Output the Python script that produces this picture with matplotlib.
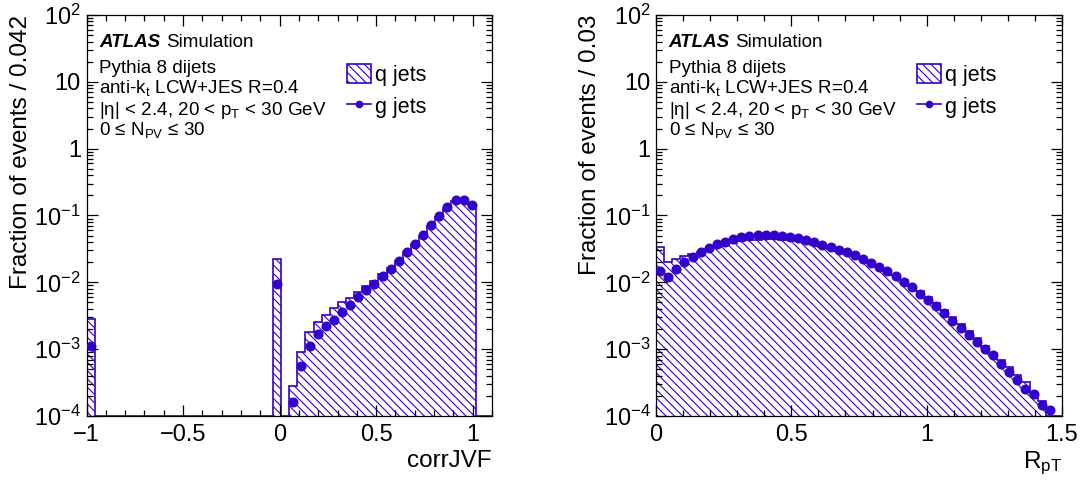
import numpy as np
import matplotlib
matplotlib.use("Agg")
import matplotlib.pyplot as plt
import matplotlib.ticker as ticker
from matplotlib.patches import Patch
from matplotlib.lines import Line2D

plt.rcParams["font.family"] = ["Liberation Sans", "DejaVu Sans"]
plt.rcParams["mathtext.fontset"] = "custom"
plt.rcParams["mathtext.rm"] = "Liberation Sans"
plt.rcParams["mathtext.it"] = "Liberation Sans:italic"
plt.rcParams["mathtext.bf"] = "Liberation Sans:bold"
plt.rcParams["hatch.linewidth"] = 0.8

COLOR = "#3300cc"
HATCH = "\\\\\\\\"
YMIN, YMAX = 1e-4, 1e2

# corrJVF: 50 bins of 0.042 from -1 to 1.1
jvf_edges = np.linspace(-1, 1.1, 51)
jvf_q = [2.8e-3] + [0] * 22 + [2.24e-2, 0,
         2.78e-4, 8.99e-4, 1.83e-3, 2.52e-3, 3.25e-3, 4.18e-3, 5.09e-3, 5.9e-3,
         7.1e-3, 8.7e-3, 1.06e-2, 1.33e-2, 1.65e-2, 2.1e-2, 2.8e-2, 3.7e-2,
         4.95e-2, 6.9e-2, 9.5e-2, 0.128, 0.165, 0.168, 0.142, 0, 0]
jvf_g = [1.12e-3] + [0] * 22 + [9.5e-3, 0,
         1.64e-4, 5.66e-4, 1.12e-3, 1.67e-3, 2.22e-3, 2.74e-3, 3.6e-3, 4.64e-3,
         5.98e-3, 7.69e-3, 9.57e-3, 1.25e-2, 1.6e-2, 2.09e-2, 2.82e-2, 3.76e-2,
         5.07e-2, 7.16e-2, 9.87e-2, 0.133, 0.171, 0.171, 0.143, 0, 0]

# R_pT: 50 bins of 0.03 from 0 to 1.5
rpt_edges = np.linspace(0, 1.5, 51)
rpt_q = [3.42e-2, 2.0e-2, 2.22e-2, 2.45e-2, 2.65e-2, 2.85e-2, 3.1e-2, 3.4e-2,
         3.65e-2, 3.9e-2, 4.1e-2, 4.25e-2, 4.35e-2, 4.4e-2, 4.4e-2, 4.35e-2,
         4.25e-2, 4.1e-2, 3.9e-2, 3.65e-2, 3.4e-2, 3.15e-2, 2.9e-2, 2.7e-2,
         2.45e-2, 2.2e-2, 1.93e-2, 1.72e-2, 1.5e-2, 1.27e-2, 1.07e-2, 8.9e-3,
         7.3e-3, 6.0e-3, 4.85e-3, 3.85e-3, 3.0e-3, 2.35e-3, 1.85e-3, 1.45e-3,
         1.12e-3, 8.9e-4, 7.0e-4, 5.4e-4, 4.1e-4, 3.2e-4, 2.1e-4, 1.7e-4, 0, 0]
rpt_g = [1.5e-2, 1.19e-2, 1.57e-2, 2.0e-2, 2.4e-2, 2.82e-2, 3.24e-2, 3.72e-2,
         4.07e-2, 4.4e-2, 4.73e-2, 4.95e-2, 5.07e-2, 5.13e-2, 5.1e-2, 5.0e-2,
         4.83e-2, 4.6e-2, 4.31e-2, 3.98e-2, 3.63e-2, 3.35e-2, 3.05e-2, 2.82e-2,
         2.54e-2, 2.26e-2, 1.95e-2, 1.72e-2, 1.48e-2, 1.23e-2, 1.02e-2, 8.4e-3,
         6.8e-3, 5.4e-3, 4.37e-3, 3.43e-3, 2.63e-3, 2.04e-3, 1.65e-3, 1.29e-3,
         9.9e-4, 8.1e-4, 6.1e-4, 4.57e-4, 3.43e-4, 2.57e-4, 2.11e-4, 1.45e-4,
         1.25e-4, 0]

y_decades = [1e-4, 1e-3, 1e-2, 1e-1, 1, 10, 100]

text_lines = ["Pythia 8 dijets",
              r"anti-k$_\mathrm{t}$ LCW+JES R=0.4",
              r"|η| < 2.4, 20 < p$_\mathrm{T}$ < 30 GeV",
              r"0 ≤ N$_\mathrm{PV}$ ≤ 30"]


def log_label(v, pos):
    e = int(round(np.log10(v)))
    if e == 0:
        return "1"
    if e == 1:
        return "10"
    return r"$10^{%d}$" % e


def x_label(v, pos):
    return ("%g" % round(v, 3)).replace("-", "\u2212")


def draw_panel(ax, edges, q, g, xlabel, ylabel):
    q = np.asarray(q, dtype=float)
    g = np.asarray(g, dtype=float)
    centers = 0.5 * (edges[1:] + edges[:-1])

    # empty bins sit on the bottom of the frame like in ROOT
    ax.stairs(np.where(q > 0, q, YMIN), edges, baseline=YMIN, fill=True,
              facecolor="none", edgecolor=COLOR, hatch=HATCH, linewidth=1.2)
    gm = np.where(g > 0, g, np.nan)
    ax.plot(centers, gm, "o", color=COLOR, markersize=6.2, zorder=3)

    ax.set_yscale("log")
    ax.set_ylim(YMIN, YMAX)
    ax.set_xlim(edges[0], edges[-1])
    ax.yaxis.set_major_locator(ticker.FixedLocator(y_decades))
    minors = [m * d for d in y_decades[:-1] for m in range(2, 10)]
    ax.yaxis.set_minor_locator(ticker.FixedLocator(minors))
    ax.yaxis.set_major_formatter(ticker.FuncFormatter(log_label))
    ax.yaxis.set_minor_formatter(ticker.NullFormatter())
    ax.xaxis.set_major_locator(ticker.MultipleLocator(0.5))
    ax.xaxis.set_minor_locator(ticker.MultipleLocator(0.1))
    ax.xaxis.set_major_formatter(ticker.FuncFormatter(x_label))

    ax.tick_params(which="both", direction="in", top=True, right=True,
                   labelsize=17, width=0.9)
    ax.tick_params(which="major", length=8)
    ax.tick_params(which="minor", length=4)
    ax.tick_params(axis="x", pad=6)
    ax.tick_params(axis="y", pad=4)
    for s in ax.spines.values():
        s.set_linewidth(0.9)

    ax.set_xlabel(xlabel, fontsize=17.5, loc="right")
    ax.xaxis.set_label_coords(1.0, -0.085)
    ax.set_ylabel(ylabel, fontsize=17.5, loc="top")
    ax.yaxis.set_label_coords(-0.135, 1.0)

    atlas = ax.text(0.031, 0.921, "ATLAS", transform=ax.transAxes, fontsize=13.5,
                    fontweight="bold", fontstyle="italic", va="baseline")
    ax.annotate("Simulation", xy=(1, 0), xycoords=atlas, xytext=(4, 0),
                textcoords="offset points", fontsize=13.5, va="bottom")
    ys = [0.856, 0.805, 0.751, 0.701]
    for y, t in zip(ys, text_lines):
        ax.text(0.031, y, t, transform=ax.transAxes, fontsize=13.6, va="baseline")

    handles = [Patch(facecolor="none", edgecolor=COLOR, hatch=HATCH, linewidth=1.2),
               Line2D([], [], color=COLOR, marker="o", markersize=4.5, linewidth=1.2)]
    ax.legend(handles, ["q jets", "g jets"], loc="upper left",
              bbox_to_anchor=(0.643, 0.878), frameon=False, fontsize=15.5,
              borderpad=0, borderaxespad=0, handlelength=1.1, handleheight=1.0,
              handletextpad=0.2, labelspacing=0.45)


fig = plt.figure(figsize=(10.89, 4.82), dpi=100)
ax1 = fig.add_axes([86.5 / 1089, 66 / 482, 405.5 / 1089, 401 / 482])
ax2 = fig.add_axes([656 / 1089, 66 / 482, 406 / 1089, 401 / 482])

draw_panel(ax1, jvf_edges, jvf_q, jvf_g, "corrJVF", "Fraction of events / 0.042")
draw_panel(ax2, rpt_edges, rpt_q, rpt_g, r"R$_\mathrm{pT}$", "Fraction of events / 0.03")

fig.savefig("out.png", dpi=100)
